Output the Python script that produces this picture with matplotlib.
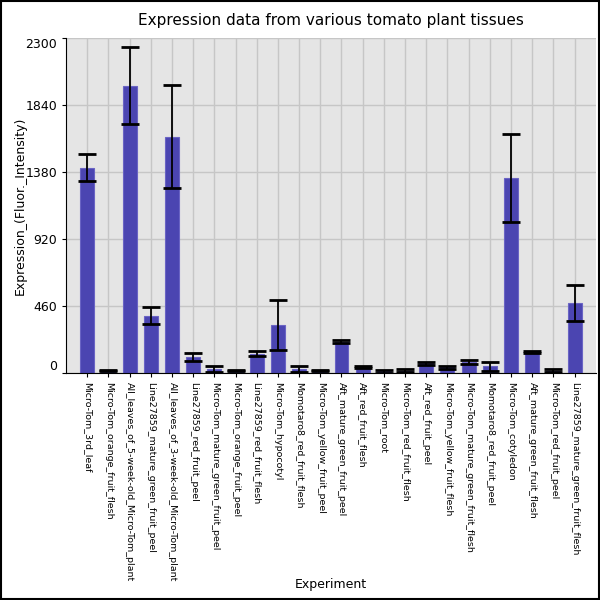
import matplotlib
matplotlib.use("Agg")
import matplotlib.pyplot as plt
import numpy as np

categories = [
    "Micro-Tom_3rd_leaf",
    "Micro-Tom_orange_fruit_flesh",
    "All_leaves_of_5-week-old_Micro-Tom_plant",
    "Line27859_mature_green_fruit_peel",
    "All_leaves_of_3-week-old_Micro-Tom_plant",
    "Line27859_red_fruit_peel",
    "Micro-Tom_mature_green_fruit_peel",
    "Micro-Tom_orange_fruit_peel",
    "Line27859_red_fruit_flesh",
    "Micro-Tom_hypocotyl",
    "Momotaro8_red_fruit_flesh",
    "Micro-Tom_yellow_fruit_peel",
    "Aft_mature_green_fruit_peel",
    "Aft_red_fruit_flesh",
    "Micro-Tom_root",
    "Micro-Tom_red_fruit_flesh",
    "Aft_red_fruit_peel",
    "Micro-Tom_yellow_fruit_flesh",
    "Micro-Tom_mature_green_fruit_flesh",
    "Momotaro8_red_fruit_peel",
    "Micro-Tom_cotyledon",
    "Aft_mature_green_fruit_flesh",
    "Micro-Tom_red_fruit_peel",
    "Line27859_mature_green_fruit_flesh",
]
values = [1411, 14, 1974, 392, 1623, 108, 25, 12, 131, 328, 25, 12,
          213, 40, 8, 12, 64, 36, 72, 42, 1340, 145, 14, 480]
errors = [95, 4, 265, 57, 356, 27, 20, 3, 17, 175, 20, 3,
          10, 8, 8, 10, 12, 10, 13, 34, 304, 7, 12, 122]
yticks = [0, 460, 920, 1380, 1840, 2300]

fig = plt.figure(figsize=(6, 6), dpi=100)
fig.patch.set_facecolor("white")
ax = fig.add_axes([0.11, 0.379, 0.883, 0.557])
ax.set_facecolor("#e5e5e5")

x = np.arange(len(categories))
ax.bar(x, values, width=0.66, color="#4b45b1", edgecolor="#6a64c4",
       linewidth=0.8, zorder=2)
ax.errorbar(x, values, yerr=errors, fmt="none", ecolor="black",
            elinewidth=1.3, capsize=6.5, capthick=2, zorder=3)

ax.set_xlim(-1, len(categories))
ax.set_ylim(0, 2300)
ax.set_xticks(x)
ax.set_xticklabels(categories, rotation=270, fontsize=6.8, ha="center", va="top")
ax.set_yticks(yticks)
ax.set_yticklabels([str(v) for v in yticks], fontsize=9)
labs = ax.get_yticklabels()
labs[0].set_va("bottom")
labs[-1].set_va("top")

ax.grid(True, color="#c6c6c6", linewidth=1.0, zorder=0)
ax.set_axisbelow(True)
for s in ["top", "right"]:
    ax.spines[s].set_visible(False)
ax.spines["left"].set_color("black")
ax.spines["bottom"].set_color("black")
ax.tick_params(axis="both", length=3, color="black")

ax.set_ylabel("Expression_(Fluor._Intensity)", fontsize=9, labelpad=-1)
ax.set_xlabel("Experiment", fontsize=9)
ax.xaxis.set_label_coords(0.5, -0.615)
ax.set_title("Expression data from various tomato plant tissues", fontsize=11, pad=10)

border = plt.Rectangle((0.001, 0.001), 0.997, 0.997, transform=fig.transFigure,
                       fill=False, edgecolor="black", linewidth=1.5)
fig.patches.append(border)

fig.savefig("out.png", dpi=100)
